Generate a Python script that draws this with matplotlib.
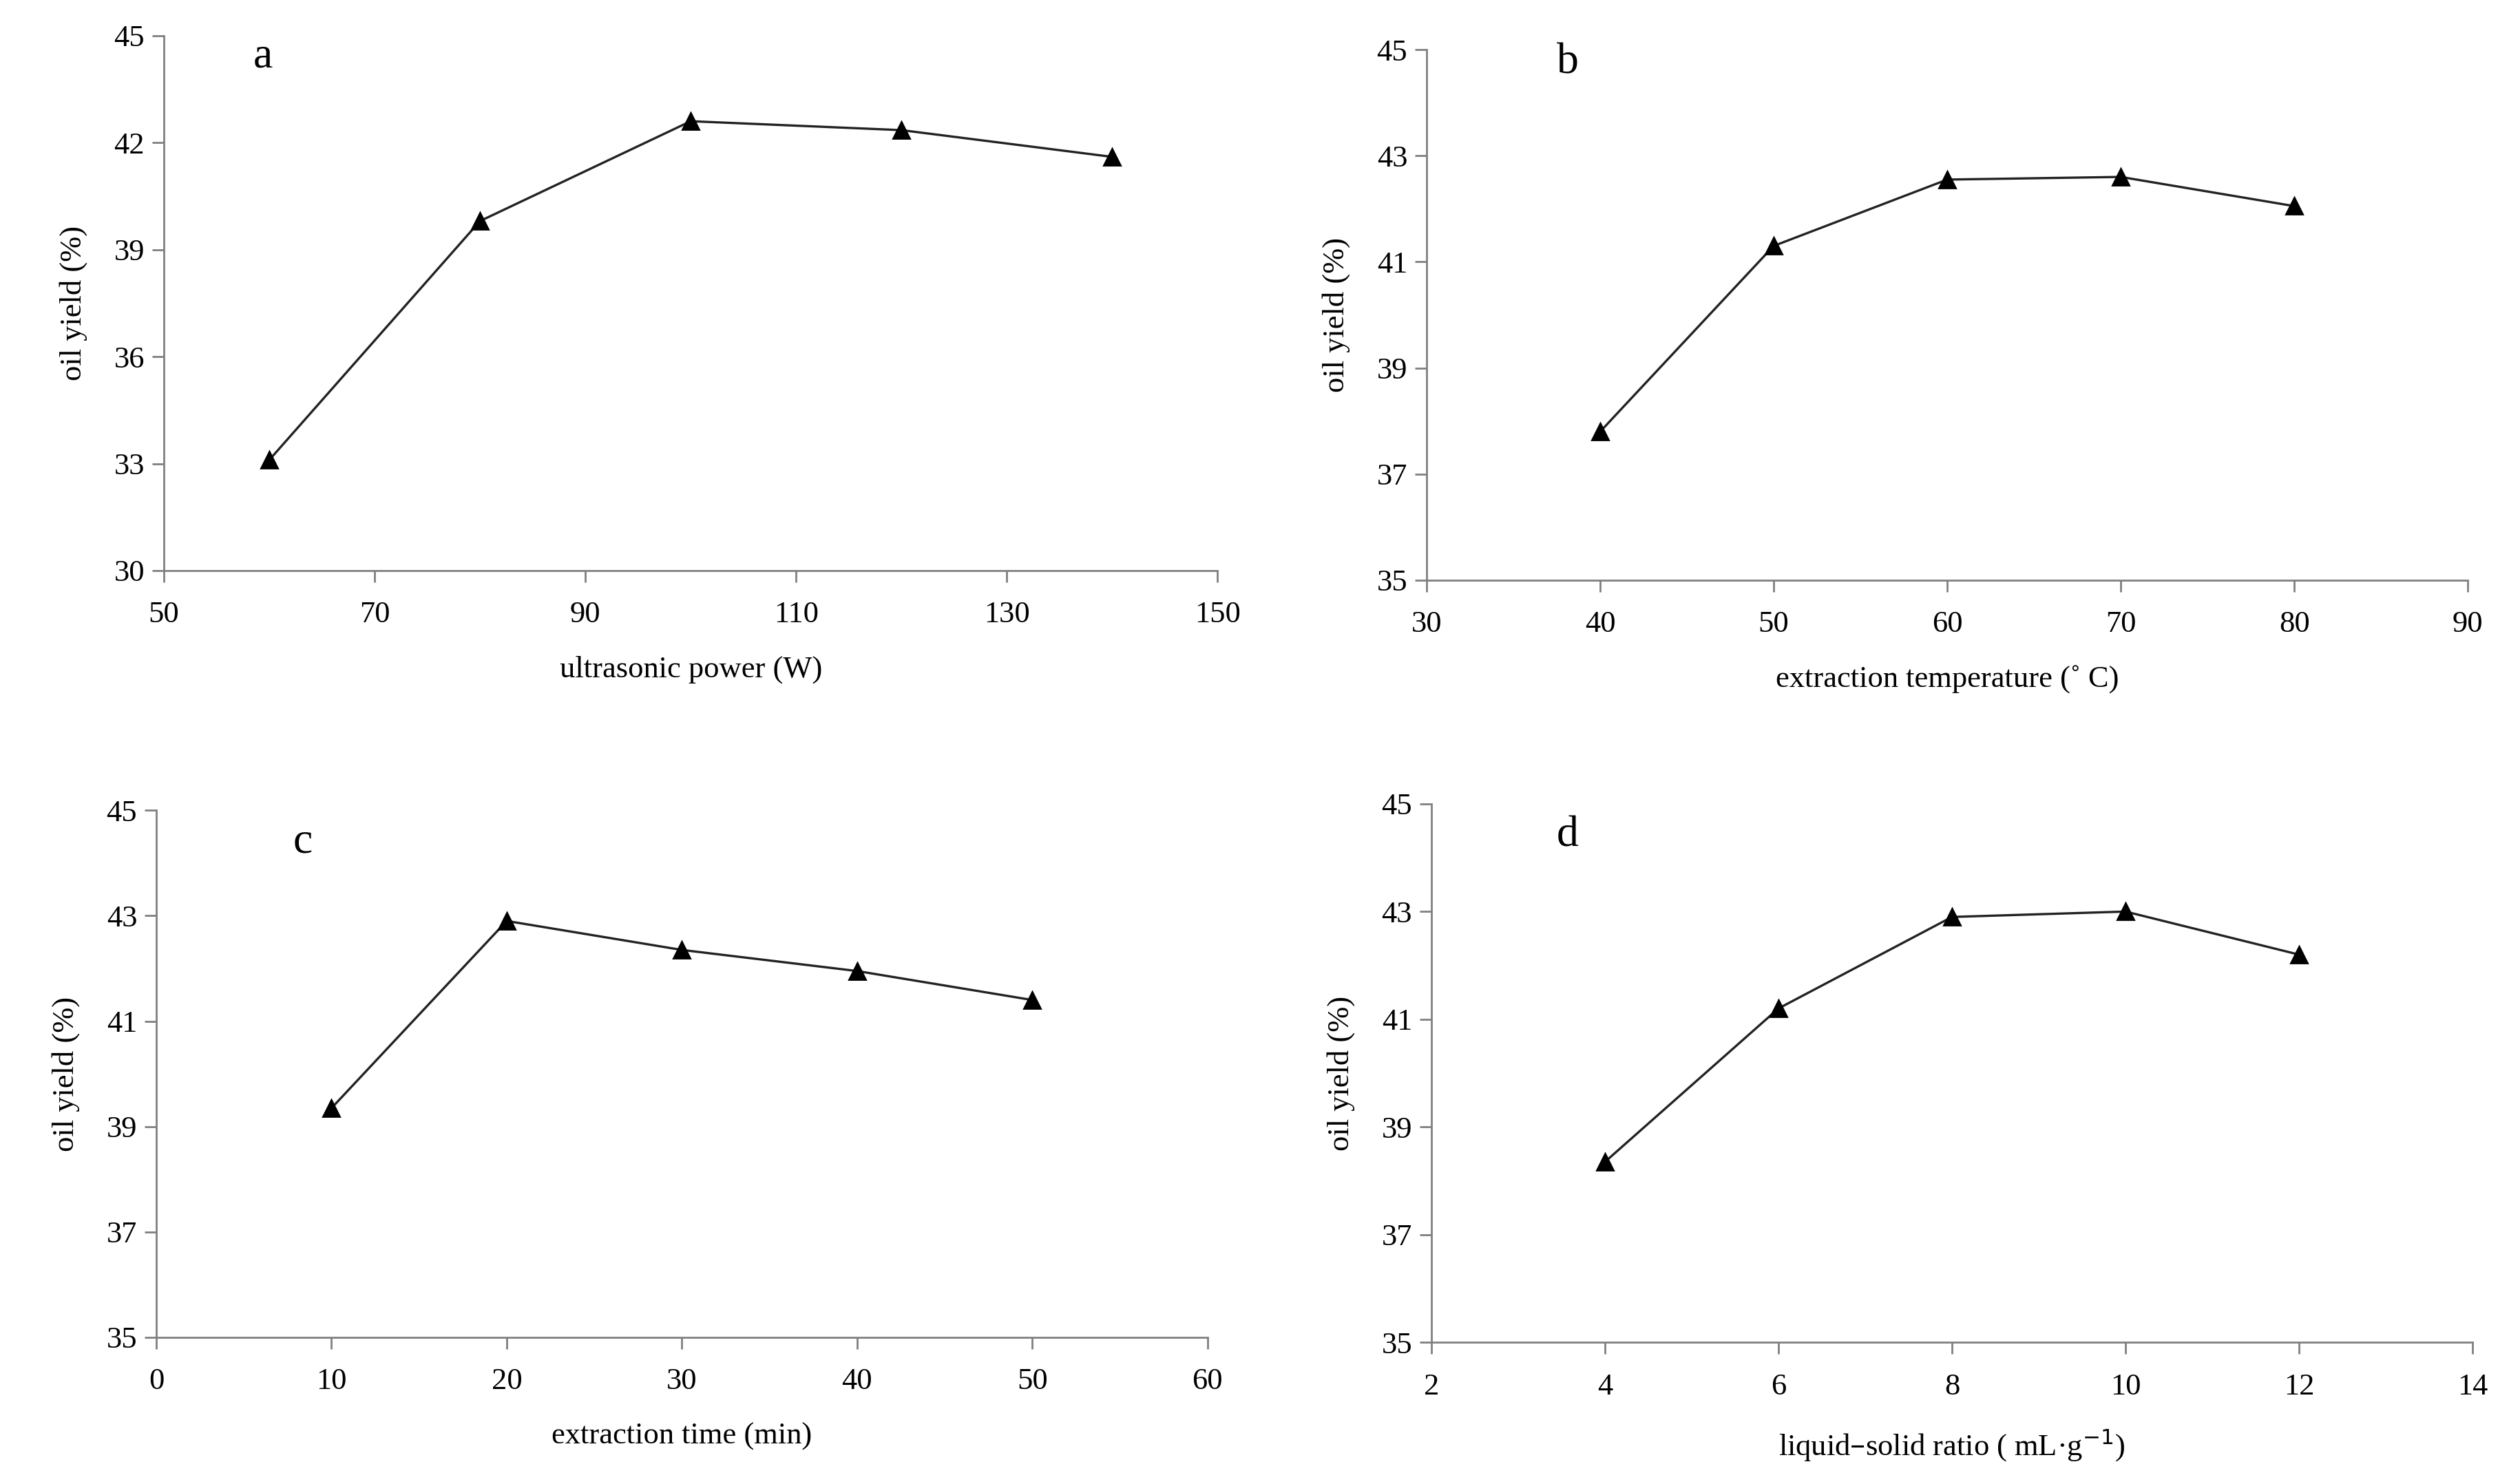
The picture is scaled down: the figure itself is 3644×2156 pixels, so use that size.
import matplotlib
matplotlib.use("Agg")
import matplotlib.pyplot as plt

plt.rcParams['font.family'] = ['Liberation Serif', 'DejaVu Serif']

# Data
power_w = [60, 80, 100, 120, 140]
yield_power = [33.1, 39.8, 42.6, 42.35, 41.6]

temp_c = [40, 50, 60, 70, 80]
yield_temp = [37.8, 41.3, 42.55, 42.6, 42.05]

time_min = [10, 20, 30, 40, 50]
yield_time = [39.35, 42.9, 42.35, 41.95, 41.4]

ratio = [4, 6, 8, 10, 12]
yield_ratio = [38.35, 41.2, 42.9, 43.0, 42.2]

panels = [
    dict(x=power_w, y=yield_power, xlim=(50, 150), xticks=[50, 70, 90, 110, 130, 150],
         ylim=(30, 45), yticks=[30, 33, 36, 39, 42, 45], xlabel="ultrasonic power (W)",
         letter="a", pos=[0.0653, 0.6155, 0.4200, 0.3605], lpos=(0.085, 0.96)),
    dict(x=temp_c, y=yield_temp, xlim=(30, 90), xticks=[30, 40, 50, 60, 70, 80, 90],
         ylim=(35, 45), yticks=[35, 37, 39, 41, 43, 45], xlabel="extraction temperature (\u02da C)",
         letter="b", pos=[0.5686, 0.609, 0.4150, 0.3576], lpos=(0.125, 0.975)),
    dict(x=time_min, y=yield_time, xlim=(0, 60), xticks=[0, 10, 20, 30, 40, 50, 60],
         ylim=(35, 45), yticks=[35, 37, 39, 41, 43, 45], xlabel="extraction time (min)",
         letter="c", pos=[0.0623, 0.0988, 0.4190, 0.3552], lpos=(0.13, 0.94)),
    dict(x=ratio, y=yield_ratio, xlim=(2, 14), xticks=[2, 4, 6, 8, 10, 12, 14],
         ylim=(35, 45), yticks=[35, 37, 39, 41, 43, 45], xlabel="liquid\u2013solid ratio ( mL\u00b7g$^{-1}$)",
         letter="d", pos=[0.5705, 0.0955, 0.4150, 0.3628], lpos=(0.12, 0.94)),
]

fig = plt.figure(figsize=(18.22, 10.78), dpi=200)

for p in panels:
    ax = fig.add_axes(p["pos"])
    ax.plot(p["x"], p["y"], color="#222222", lw=1.2, marker="^", markersize=8.5,
            markerfacecolor="black", markeredgecolor="black", clip_on=False)
    ax.set_xlim(*p["xlim"])
    ax.set_ylim(*p["ylim"])
    ax.set_xticks(p["xticks"])
    ax.set_yticks(p["yticks"])
    for s in ["top", "right"]:
        ax.spines[s].set_visible(False)
    for s in ["left", "bottom"]:
        ax.spines[s].set_color("#808080")
        ax.spines[s].set_linewidth(1.0)
    ax.tick_params(axis="both", direction="out", length=6, width=1.0, color="#808080",
                   labelsize=16, labelcolor="black")
    ax.tick_params(axis="x", pad=10)
    ax.tick_params(axis="y", pad=4)
    ax.set_xlabel(p["xlabel"], fontsize=16, labelpad=14)
    ax.set_ylabel("oil yield (%)", fontsize=16, labelpad=14)
    ax.text(p["lpos"][0], p["lpos"][1], p["letter"], transform=ax.transAxes,
            fontsize=23, ha="left", va="center")

fig.savefig("out.png", dpi=200, facecolor="white")
